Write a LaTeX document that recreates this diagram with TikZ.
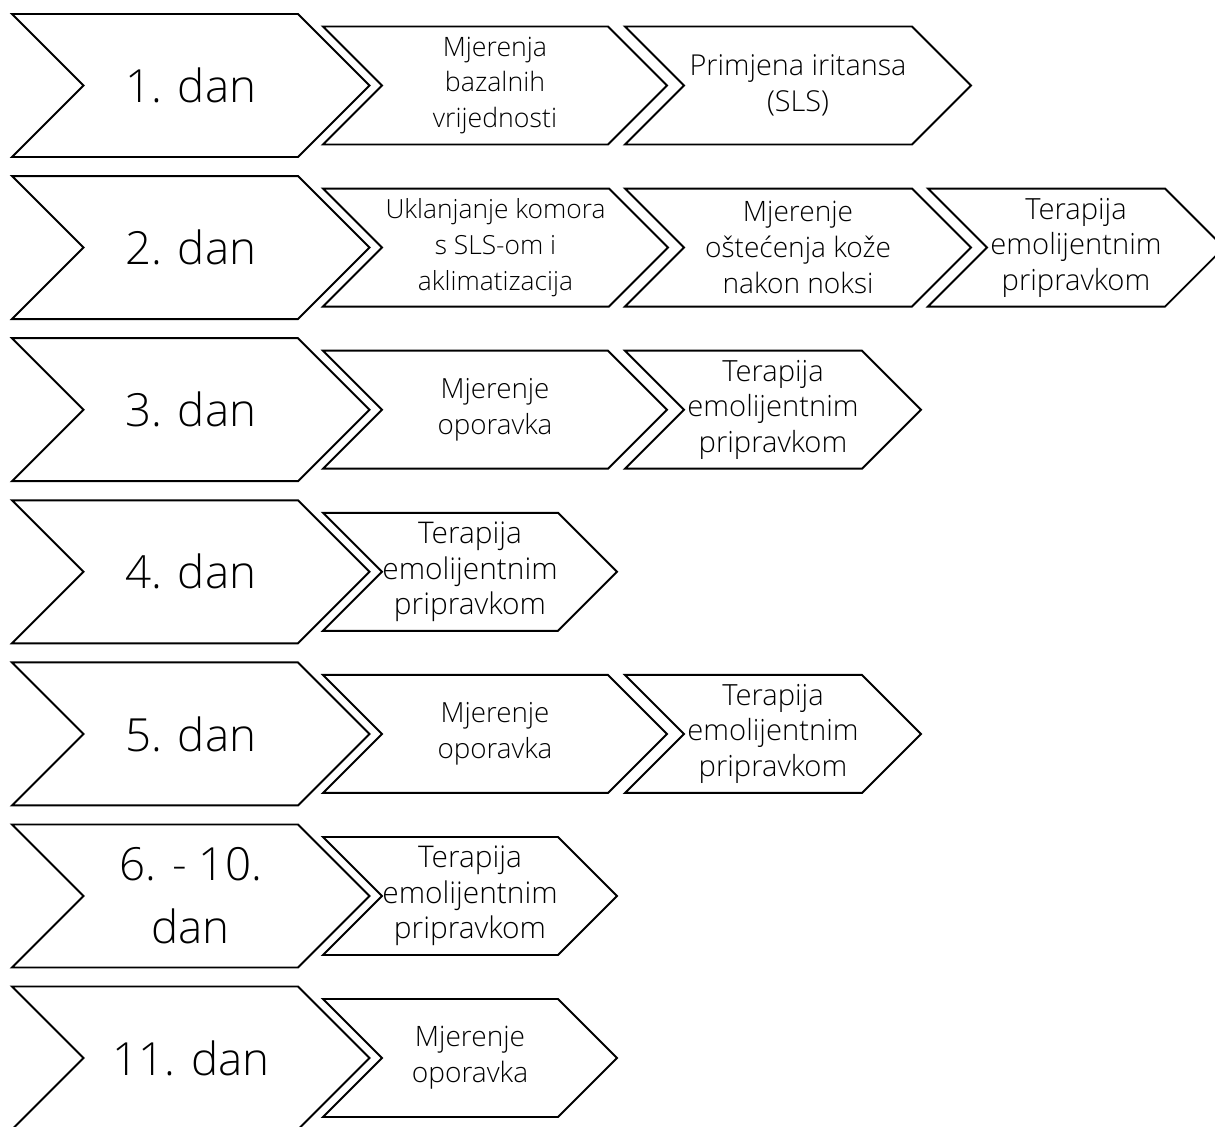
\documentclass[tikz,border=0pt]{standalone}
\usepackage{fontspec}
\setmainfont{Open Sans}[UprightFont=* Light]

% one chevron: name, left x, corner x, centre y, half height, text, text style
\newcommand{\chevshape}[7]{%
  \draw[outline] (#2,#4-#5) -- (#3,#4-#5) -- (#3+#5,#4) -- (#3,#4+#5) -- (#2,#4+#5) -- (#2+#5,#4) -- cycle;
  \node[#7] (#1) at ({(#2+#5+#3)/2},#4) {#6};}

\begin{document}
\begin{tikzpicture}[
    x=0.02cm, y=-0.02cm,
    outline/.style={draw=black, line width=1.1pt, line join=miter, fill=white},
    daytext/.style={font=\fontsize{26}{36}\selectfont, align=center, inner sep=0pt},
    steptext/.style={font=\fontsize{#1}{20.3}\selectfont, align=center, inner sep=0pt},
    steptext/.default=16.6
]
\useasboundingbox (0,0) rectangle (1215,1127);
\clip (0,0) rectangle (1215,1127);

% Day 1
\chevshape{day1}{12}{298}{85.5}{71.5}{1. dan}{daytext}
\chevshape{base1}{323}{608}{85.5}{59}{Mjerenja\\bazalnih\\vrijednosti}{steptext=15.2}
\chevshape{sls1}{625}{912}{85.5}{59}{Primjena iritansa\\(SLS)}{steptext=16.4}

% Day 2
\chevshape{day2}{12}{298}{247.6}{71.5}{2. dan}{daytext}
\chevshape{remove2}{323}{609}{247.6}{59}{Uklanjanje komora\\s SLS-om i\\aklimatizacija}{steptext=15}
\chevshape{meas2}{625}{912}{247.6}{59}{Mjerenje\\oštećenja kože\\nakon noksi}{steptext=16}
\chevshape{ther2}{928}{1165}{247.6}{59}{Terapija\\emolijentnim\\pripravkom}{steptext}

% Day 3
\chevshape{day3}{12}{298}{409.7}{71.5}{3. dan}{daytext}
\chevshape{meas3}{323}{608}{409.7}{59}{Mjerenje\\oporavka}{steptext=15.8}
\chevshape{ther3}{625}{862}{409.7}{59}{Terapija\\emolijentnim\\pripravkom}{steptext}

% Day 4
\chevshape{day4}{12}{298}{571.8}{71.5}{4. dan}{daytext}
\chevshape{ther4}{323}{558}{571.8}{59}{Terapija\\emolijentnim\\pripravkom}{steptext=17}

% Day 5
\chevshape{day5}{12}{298}{733.9}{71.5}{5. dan}{daytext}
\chevshape{meas5}{323}{608}{733.9}{59}{Mjerenje\\oporavka}{steptext=15.8}
\chevshape{ther5}{625}{862}{733.9}{59}{Terapija\\emolijentnim\\pripravkom}{steptext}

% Days 6 - 10
\chevshape{day6}{12}{298}{896}{71.5}{6. - 10.\\dan}{daytext}
\chevshape{ther6}{323}{558}{896}{59}{Terapija\\emolijentnim\\pripravkom}{steptext=17}

% Day 11
\chevshape{day11}{12}{298}{1058}{71.5}{11. dan}{daytext}
\chevshape{meas11}{323}{558}{1058}{59}{Mjerenje\\oporavka}{steptext=16}

\end{tikzpicture}
\end{document}
